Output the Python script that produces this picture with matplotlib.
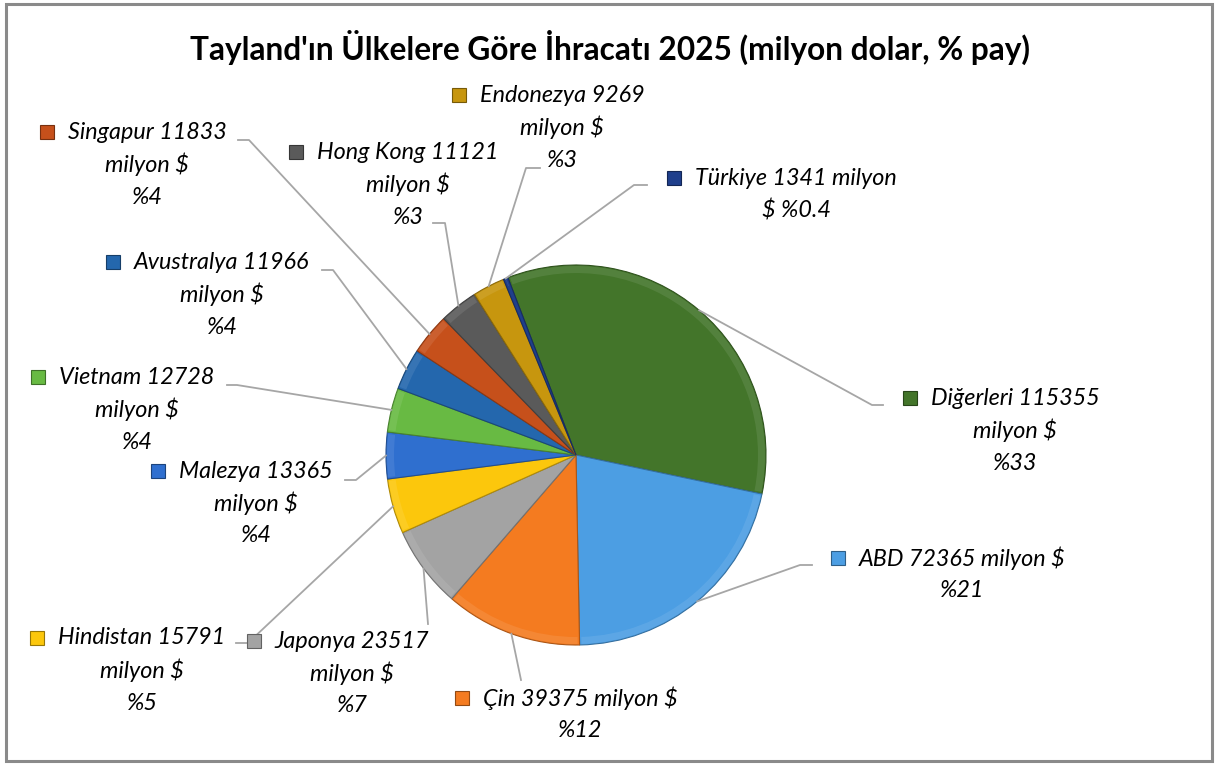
import matplotlib
matplotlib.use("Agg")
import matplotlib.pyplot as plt
from matplotlib.colors import to_rgb
from matplotlib.patches import Rectangle, Wedge
import numpy as np

# data
countries = ["Diğerleri", "ABD", "Çin", "Japonya", "Hindistan", "Malezya",
             "Vietnam", "Avustralya", "Singapur", "Hong Kong", "Endonezya", "Türkiye"]
values = [115355, 72365, 39375, 23517, 15791, 13365, 12728, 11966, 11833, 11121, 9269, 1341]
shares = ["33", "21", "12", "7", "5", "4", "4", "4", "4", "3", "3", "0.4"]
colors = ["#43752a", "#4c9ee3", "#f47b20", "#a3a3a3", "#fcc70c", "#2f6fcf",
          "#68ba43", "#2467ad", "#c6501b", "#5a5a5a", "#c7960e", "#1f3f8c"]

title = "Tayland'ın Ülkelere Göre İhracatı 2025 (milyon dolar, % pay)"

W, H = 1219, 765
CX, CY, R = 576, 455, 190
LINE_GAP = 32.5

# label layout in pixels: text center x, first line y, wrap style, leader path (label side)
layout = {
    "Diğerleri": (1015, 398, 3, [(883, 405), (872, 405)]),
    "ABD": (962, 558, 2, [(812, 565), (800, 565)]),
    "Çin": (580, 698, 2, [(521, 680)]),
    "Japonya": (352, 641, 3, [(428, 624)]),
    "Hindistan": (142, 638, 3, [(236, 643), (248, 643)]),
    "Malezya": (256, 471, 3, [(345, 480), (356, 480)]),
    "Vietnam": (137, 377, 3, [(227, 385), (237, 385)]),
    "Avustralya": (222, 262, 3, [(322, 270), (333, 270)]),
    "Singapur": (147, 132, 3, [(238, 140), (249, 140)]),
    "Hong Kong": (408, 152, 3, [(433, 223), (445, 223)]),
    "Endonezya": (562, 95, 3, [(540, 168), (526, 168)]),
    "Türkiye": (796, 178, 1, [(647, 185), (634, 185)]),
}


def shade(c, f):
    r, g, b = to_rgb(c)
    return (r * f, g * f, b * f)


def light(c, f):
    r, g, b = to_rgb(c)
    return (r + (1 - r) * f, g + (1 - g) * f, b + (1 - b) * f)


def label_lines(name, val, pct, style):
    if style == 2:
        return [f"{name} {val} milyon $", f"%{pct}"]
    if style == 1:
        return [f"{name} {val} milyon", f"$ %{pct}"]
    return [f"{name} {val}", "milyon $", f"%{pct}"]


plt.rcParams['font.family'] = ['Lato', 'DejaVu Sans']

fig = plt.figure(figsize=(W / 100, H / 100), dpi=100)
ax = fig.add_axes([0, 0, 1, 1])

# y axis inverted so pixel coords read like the picture; ccw in data = clockwise on screen
wedges, _ = ax.pie(values, colors=colors, center=(CX, CY), radius=R,
                   startangle=-111, counterclock=True,
                   wedgeprops=dict(linewidth=0.8))
for w, c in zip(wedges, colors):
    w.set_edgecolor(shade(c, 0.7))
    # soft rim, a cheap stand-in for the bevel
    ax.add_patch(Wedge((CX, CY), R - 1, w.theta1 + 0.6, w.theta2 - 0.6, width=7,
                       facecolor=light(c, 0.3), alpha=0.3, edgecolor='none', zorder=3))

ax.set_xlim(0, W)
ax.set_ylim(H, 0)
ax.set_aspect('auto')
ax.axis('off')

ax.add_patch(Rectangle((6, 4), W - 13, H - 8, facecolor='none',
                       edgecolor='#8a8a8a', linewidth=2.2, zorder=5))

ax.text(610, 47, title, ha='center', va='center', fontsize=22.8,
        fontweight='bold', color='black')

fig.canvas.draw()
renderer = fig.canvas.get_renderer()
inv = ax.transData.inverted()

for w, name, val, pct, c in zip(wedges, countries, values, shares, colors):
    cx, y1, style, path = layout[name]
    lines = label_lines(name, val, pct, style)
    first = None
    for i, ln in enumerate(lines):
        t = ax.text(cx, y1 + i * LINE_GAP, ln, ha='center', va='center', fontsize=16.8,
                    style='italic', color='black', zorder=6)
        if i == 0:
            first = t
    bb = first.get_window_extent(renderer)
    x0 = inv.transform((bb.x0, bb.y0))[0]
    ax.add_patch(Rectangle((x0 - 28, y1 - 7), 14, 14, facecolor=c,
                           edgecolor=shade(c, 0.6), linewidth=0.8, zorder=6))
    # leader from slice middle to label
    t_mid = np.deg2rad((w.theta1 + w.theta2) / 2)
    px = CX + R * np.cos(t_mid)
    py = CY + R * np.sin(t_mid)
    xs = [px] + [p[0] for p in reversed(path)]
    ys = [py] + [p[1] for p in reversed(path)]
    ax.plot(xs, ys, color='#a6a6a6', linewidth=1.3, zorder=2)

fig.savefig("out.png", dpi=100)
